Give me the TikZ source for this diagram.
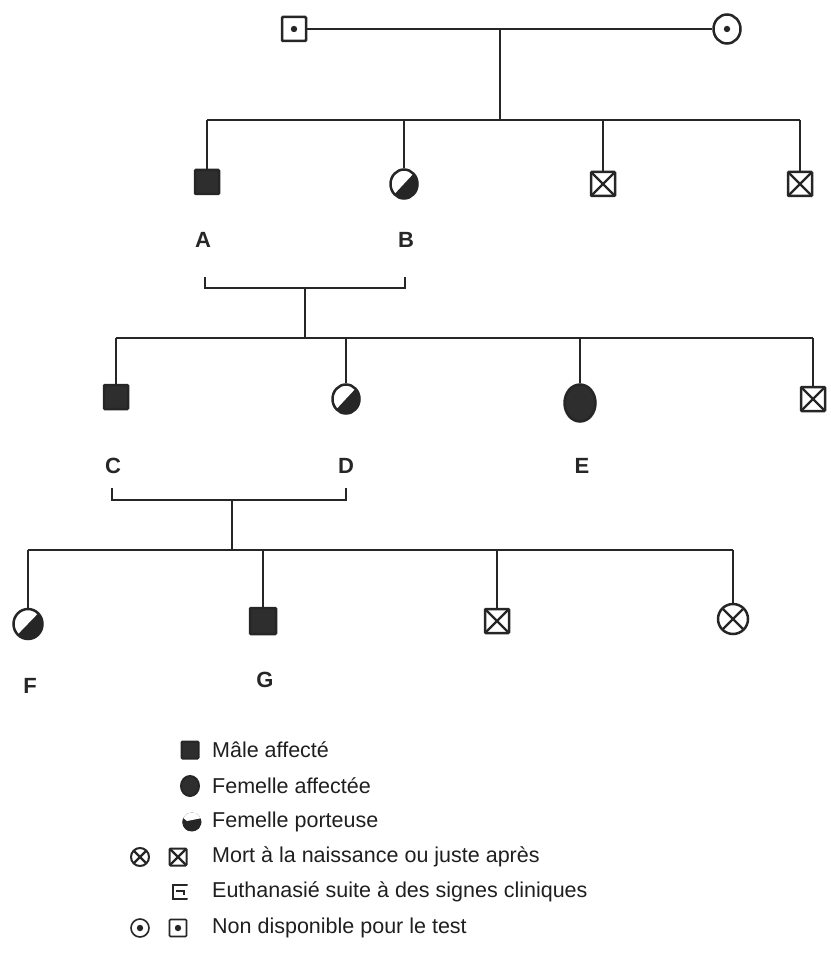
\documentclass[tikz,border=0pt]{standalone}
\usepackage{fontspec}
\setmainfont{Liberation Sans}
\usetikzlibrary{shapes.geometric,calc}
\begin{document}
\begin{tikzpicture}[x=1pt,y=-1pt]
\tikzset{
  link/.style={line width=2pt, black!85},
  male/.style={draw=black!85, line width=2.5pt, rectangle, rounded corners=1pt, minimum size=24pt, inner sep=0pt},
  female/.style={draw=black!85, line width=2.5pt, ellipse, minimum width=27pt, minimum height=29pt, inner sep=0pt},
  affected/.style={fill=black!82},
  deadmark/.style={path picture={\draw[black!85, line width=2.2pt]
      (path picture bounding box.north west) -- (path picture bounding box.south east)
      (path picture bounding box.north east) -- (path picture bounding box.south west);}},
  carrier/.style={path picture={\fill[black!85]
      (path picture bounding box.south west) -- (path picture bounding box.north east)
      -- (path picture bounding box.south east) -- cycle;}},
  untested/.style={path picture={\fill[black!85] (path picture bounding box.center) circle (3.2pt);}},
  lbl/.style={font=\fontsize{22}{22}\selectfont\bfseries, text=black!85},
  legtext/.style={anchor=west, inner sep=0pt, font=\fontsize{21.5}{25}\selectfont, text=black!88},
  legsq/.style={minimum size=17pt, line width=2pt},
  legci/.style={minimum width=18pt, minimum height=18pt, line width=2pt},
}
\useasboundingbox (0,0) rectangle (830,976);

% ---- generation I ----
\node[male,untested] (p1) at (294,29) {};
\node[female,untested] (p2) at (727,29) {};
\draw[link] (p1) -- (p2);
\coordinate (m1) at (500,29);
\coordinate (s1l) at (207,120);
\coordinate (s1r) at (800,120);
\draw[link] (m1) -- (m1 |- s1l);
\draw[link] (s1l) -- (s1r);

% ---- generation II ----
\node[male,affected] (A) at (207,182) {};
\node[female,carrier] (B) at (404,184) {};
\node[male,deadmark] (X1) at (603,184) {};
\node[male,deadmark] (X2) at (800,184) {};
\foreach \n in {A,B,X1,X2} \draw[link] (\n) -- (\n |- s1l);
\node[lbl] (lA) at (203,240) {A};
\node[lbl] (lB) at (406,240) {B};

% mating bracket A x B
\coordinate (b1l) at (205,288);
\coordinate (b1r) at (405,288);
\coordinate (b1m) at (305,288);
\draw[link] ($(b1l)+(0,-11)$) -- (b1l) -- (b1r) -- ++(0,-11);
\coordinate (s2l) at (116,338);
\coordinate (s2r) at (813,338);
\draw[link] (b1m) -- (b1m |- s2l);
\draw[link] (s2l) -- (s2r);

% ---- generation III ----
\node[male,affected] (C) at (116,397) {};
\node[female,carrier] (D) at (346,399) {};
\node[female,affected,minimum width=31pt,minimum height=37pt] (E) at (580,403) {};
\node[male,deadmark] (X3) at (813,399) {};
\foreach \n in {C,D,E,X3} \draw[link] (\n) -- (\n |- s2l);
\node[lbl] (lC) at (113,466) {C};
\node[lbl] (lD) at (346,466) {D};
\node[lbl] (lE) at (582,466) {E};

% mating bracket C x D
\coordinate (b2l) at (112,500);
\coordinate (b2r) at (346,500);
\coordinate (b2m) at (232,500);
\draw[link] ($(b2l)+(0,-12)$) -- (b2l) -- (b2r) -- ++(0,-12);
\coordinate (s3l) at (28,550);
\coordinate (s3r) at (733,550);
\draw[link] (b2m) -- (b2m |- s3l);
\draw[link] (s3l) -- (s3r);

% ---- generation IV ----
\node[female,carrier,minimum width=29pt,minimum height=30pt] (F) at (28,624) {};
\node[male,affected,minimum size=26pt] (G) at (263,621) {};
\node[male,deadmark] (X4) at (497,621) {};
\node[female,deadmark,minimum width=30pt,minimum height=30pt] (X5) at (733,619) {};
\foreach \n in {F,G,X4,X5} \draw[link] (\n) -- (\n |- s3l);
\node[lbl] (lF) at (30,686) {F};
\node[lbl] (lG) at (265,680) {G};

% ---- legend ----
\node[male,affected,legsq] (k1) at (190,750) {};
\node[legtext] (t1) at (212,750) {Mâle affecté};

\node[female,affected,legci,minimum height=20pt] (k2) at (190,786) {};
\node[legtext] (t2) at (212,786) {Femelle affectée};

% carrier female symbol of the key: dark cup with a light upper wedge
\coordinate (k3) at (192,822);
\begin{scope}
  \clip (k3) circle (9.5);
  \fill[black!85] (k3) circle (9.5);
  \fill[white] ($(k3)+(-5,-1)$) -- ($(k3)+(10,-4)$) -- ($(k3)+(10,-11)$) -- ($(k3)+(-10,-11)$) -- ($(k3)+(-10,-5)$) -- cycle;
\end{scope}
\draw[black!85, line width=1.4pt] ($(k3)+(110:9)$) arc (110:200:9);
\node[legtext] (t3) at (212,822) {Femelle porteuse};

\node[female,deadmark,legci] (k4a) at (140,857) {};
\node[male,deadmark,legsq] (k4b) at (178,857) {};
\node[legtext] (t4) at (212,857) {Mort à la naissance ou juste après};

\coordinate (k5) at (180,892);
\draw[black!85, line width=2pt, line cap=round]
  ($(k5)+(7,-7)$) -- ($(k5)+(-7,-7)$) -- ($(k5)+(-7,7)$) -- ($(k5)+(7,7)$);
\draw[black!85, line width=2pt] ($(k5)+(-4,-1)$) -- ($(k5)+(4,-1)$) -- ($(k5)+(4,3)$);
\node[legtext] (t5) at (212,892) {Euthanasié suite à des signes cliniques};

\node[female,untested,legci,line width=1.6pt] (k6a) at (140,928) {};
\node[male,untested,legsq,line width=1.6pt] (k6b) at (178,928) {};
\node[legtext] (t6) at (212,928) {Non disponible pour le test};
\end{tikzpicture}
\end{document}
